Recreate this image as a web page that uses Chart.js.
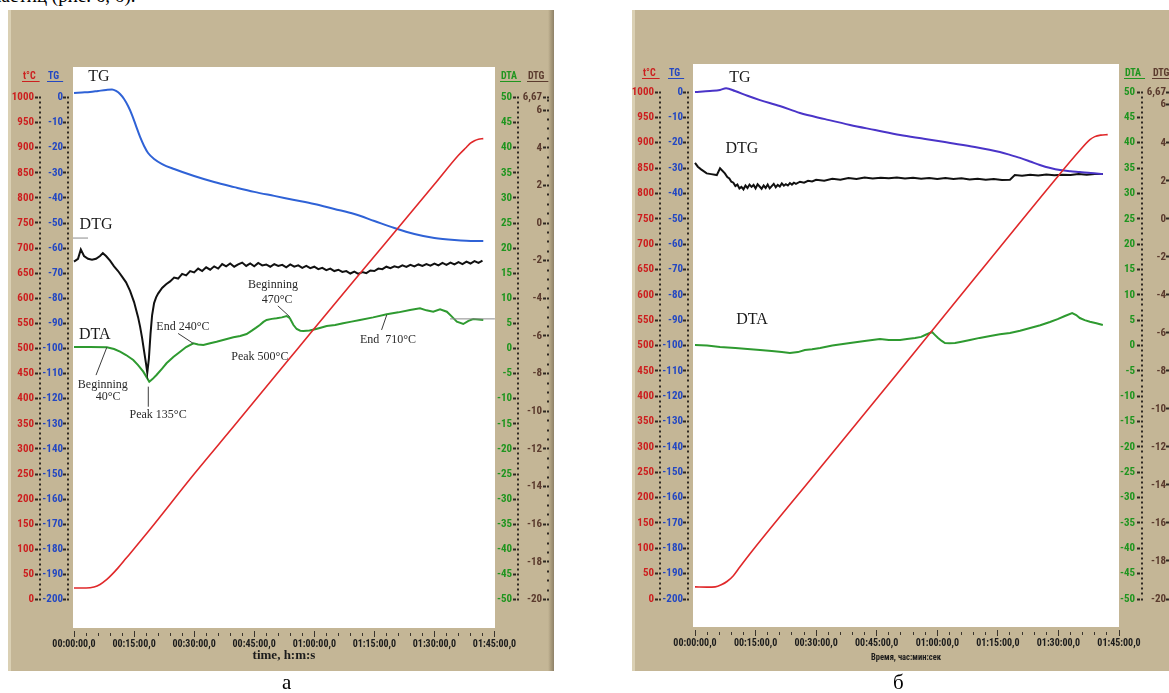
<!DOCTYPE html>
<html>
<head>
<meta charset="utf-8">
<script src="https://cdn.jsdelivr.net/npm/chart.js@4.4.1/dist/chart.umd.min.js"></script>
<style>
  html, body { margin: 0; padding: 0; background: #fff; width: 1169px; height: 693px; overflow: hidden; position: relative; }
  .panel { position: absolute; top: 10px; height: 661px;
    background: linear-gradient(to right, #dad0b4 0, #dad0b4 3px, #c4b696 3px, #c4b696 calc(100% - 6px), #a99b7d calc(100% - 3px), #8e8168 100%); }
  #pa { left: 8px; width: 546px; }
  #pb { left: 632px; width: 547px; }
  canvas { position: absolute; left: 0; top: 0; }
  .cap { position: absolute; top: 670px; font: 21px "Liberation Serif", "Times New Roman", serif; color: #000; }
  .cut { position: absolute; left: -8px; top: -15px; font: 19px "Liberation Serif", "Times New Roman", serif; color: #000; white-space: nowrap; }
</style>
</head>
<body>
<div class="cut">частиц (рис. 6, б).</div>
<div class="panel" id="pa"><canvas id="ca" width="546" height="661"></canvas></div>
<div class="panel" id="pb"><canvas id="cb" width="547" height="661"></canvas></div>
<div class="cap" style="left:282px">а</div>
<div class="cap" style="left:893px">б</div>
<script>
// ---------- tick values ----------
const timeLabelTicks = [0, 15, 30, 45, 60, 75, 90, 105];   // minutes
const timeStep = 3;
const tempTicks = [0, 50, 100, 150, 200, 250, 300, 350, 400, 450, 500, 550, 600, 650, 700, 750, 800, 850, 900, 950, 1000];
const tempStep = 10;
const tgTicks = [0, -10, -20, -30, -40, -50, -60, -70, -80, -90, -100, -110, -120, -130, -140, -150, -160, -170, -180, -190, -200];
const tgStep = 2;
const dtaTicks = [50, 45, 40, 35, 30, 25, 20, 15, 10, 5, 0, -5, -10, -15, -20, -25, -30, -35, -40, -45, -50];
const dtaStep = 1;
const dtgTicks = [6.67, 6, 4, 2, 0, -2, -4, -6, -8, -10, -12, -14, -16, -18, -20];
const dtgStep = 0.5;

// ---------- sample (а) ----------
const timeTempA = [0, 3, 5, 6.5, 8.2, 9.5, 11, 13, 15, 18.7, 30, 40, 53.2, 60, 70, 78, 90, 96, 98, 99, 100, 101, 102.2];
const tempA     = [23, 23, 25, 30, 40, 50, 63, 82, 101, 137, 250, 346, 474, 540, 636, 712, 827, 885, 901, 909, 914, 917, 918];

const timeTgA = [0, 2, 4, 6, 8, 9.5, 10.5, 11.5, 12.5, 13.5, 14.5, 15.5, 16.5, 17.5, 18.5, 20, 22, 25, 30, 35, 40, 45, 50, 55, 60, 65, 70, 75, 80, 85, 90, 95, 100, 102.2];
const tgA     = [1.8, 2.0, 2.2, 2.6, 3.0, 3.2, 2.6, 1.4, -0.6, -3.4, -7.0, -11.4, -15.7, -19.3, -22.1, -24.5, -26.5, -28.5, -31.3, -33.7, -35.7, -37.6, -39.2, -40.8, -42.4, -44.4, -46.4, -49.2, -52.0, -54.4, -56.0, -56.8, -57.2, -57.2];

const timeDtgA = [0, 1, 1.7, 2.5, 3.5, 4.5, 5.5, 6.5, 7.2, 8, 9, 10, 11, 12, 13, 14, 15, 16, 16.5, 17, 17.5, 18, 18.3, 18.7, 19.1, 19.5, 20, 20.5, 21,
  22, 23, 24, 25, 26, 27, 28, 29, 30, 31, 32, 33, 34, 35, 36, 37, 38, 39, 40, 41, 42, 43, 44, 45, 46, 47, 48, 49, 50, 51, 52, 53, 54, 55, 56, 57, 58, 59, 60,
  61, 62, 63, 64, 65, 66, 67, 68, 69, 70, 71, 72, 73, 74, 75, 76, 77, 78, 79, 80, 81, 82, 83, 84, 85, 86, 87, 88, 89, 90, 91, 92, 93, 94, 95, 96, 97, 98, 99, 100, 101, 102];
const dtgA = [-2.05, -1.9, -1.4, -1.75, -1.9, -1.95, -1.9, -1.75, -1.6, -1.75, -2.0, -2.3, -2.55, -2.85, -3.15, -3.6, -4.2, -5.0, -5.5, -6.1, -6.8, -7.5, -7.95, -7.2, -5.9, -4.9, -4.25, -3.95, -3.75,
  -3.45, -3.25, -3.1, -2.9, -2.95, -2.7, -2.78, -2.55, -2.62, -2.42, -2.55, -2.35, -2.48, -2.3, -2.42, -2.18, -2.3, -2.15, -2.32, -2.2, -2.1, -2.28, -2.15, -2.3, -2.12, -2.25, -2.2, -2.32, -2.18, -2.28, -2.22, -2.35, -2.2, -2.32, -2.25, -2.38, -2.28, -2.4, -2.32,
  -2.45, -2.38, -2.5, -2.42, -2.55, -2.48, -2.6, -2.55, -2.68, -2.58, -2.7, -2.6, -2.66, -2.52, -2.55, -2.42, -2.45, -2.32, -2.4, -2.3, -2.36, -2.25, -2.33, -2.22, -2.3, -2.2, -2.28, -2.18, -2.26, -2.15, -2.25, -2.12, -2.22, -2.1, -2.2, -2.08, -2.18, -2.05, -2.15, -2.02, -2.12, -2.0];

const timeDtaA = [0, 4, 8.2, 10, 11.5, 13, 14.8, 16, 17.3, 18.2, 18.8, 19.6, 20.6, 22, 23.1, 24.8, 26.5, 28, 29.8, 31, 32.3, 34, 35.6, 37.7, 39.8, 41.5, 43.1, 44.4, 45.4, 46.4, 47.3, 48.1, 49.4, 50.6, 51.9, 53.1, 53.9, 54.8, 55.6, 56.5, 57.3, 58.8, 60.2, 61.6, 63.1, 65.2, 67.2, 69.3, 71.4, 74.7, 78.1, 81, 83.9, 86.4, 88, 89.7, 91.4, 93.1, 94.3, 95.6, 97.2, 98.5, 99.7, 102.2];
const dtaA     = [0.3, 0.3, 0.24, -0.1, -0.64, -1.3, -2.29, -3.3, -4.62, -5.8, -6.61, -6.1, -5.28, -4.0, -2.95, -1.7, -0.64, 0.3, 1.04, 0.8, 0.7, 1.05, 1.35, 1.8, 2.23, 2.5, 2.89, 3.55, 4.1, 4.68, 5.3, 5.68, 5.9, 6.02, 6.2, 6.47, 6.02, 4.68, 3.88, 3.55, 3.49, 3.6, 3.82, 4.15, 4.48, 4.7, 5.02, 5.35, 5.68, 6.2, 6.81, 7.2, 7.67, 8.01, 7.6, 7.33, 7.81, 7.33, 6.4, 5.34, 4.88, 5.5, 5.88, 5.68];

// ---------- sample (б) ----------
const timeTempB = [0, 3, 5, 6.5, 8, 9.5, 11.1, 14.4, 30, 50, 70, 90, 95, 97.8, 99, 100.5, 102.2];
const tempB     = [24, 23.5, 24, 28, 35, 46, 63, 97, 249, 444, 640, 835, 882, 906, 912, 915, 916];

const timeTgB = [0, 3.7, 6.2, 7.7, 9.9, 13, 16.1, 21, 26, 32.2, 38.4, 44.6, 50.8, 57, 63.2, 69.3, 75.5, 78, 80.5, 83, 85.4, 88, 90.4, 93, 95.3, 98, 101];
const tgB     = [0, 0.4, 0.8, 1.5, 0.4, -1.5, -3.2, -5.5, -8.3, -10.7, -13.0, -15.0, -17.0, -18.5, -20.1, -21.7, -23.7, -24.8, -26.0, -27.4, -28.8, -30.0, -30.8, -31.3, -31.6, -32.0, -32.3];

const timeDtgB = [0, 0.7, 1.5, 2.9, 4, 5.4, 6.2, 7.4, 8, 8.5, 9, 9.5, 10, 10.5, 11, 11.5, 12, 12.5, 13, 13.5, 14, 14.5, 15, 15.5, 16, 16.5, 17, 17.5, 18, 18.5, 19, 19.5, 20, 20.5, 21, 21.5, 22, 22.5, 23, 23.5, 24, 24.5, 25, 26, 27, 28, 29, 30,
  32, 34, 36, 38, 40, 42, 44, 46, 48, 50, 52, 54, 56, 58, 60, 62, 64, 66, 68, 70, 72, 74, 76, 78, 79.2, 81, 83, 85, 87, 89, 91, 93, 95, 97, 99, 101];
const dtgB     = [2.94, 2.74, 2.6, 2.39, 2.35, 2.3, 2.66, 2.39, 2.2, 2.12, 1.95, 1.9, 1.72, 1.8, 1.6, 1.68, 1.55, 1.75, 1.62, 1.8, 1.68, 1.78, 1.6, 1.82, 1.7, 1.58, 1.75, 1.62, 1.8, 1.6, 1.72, 1.84, 1.66, 1.78, 1.7, 1.86, 1.74, 1.82, 1.75, 1.88, 1.8, 1.9, 1.84, 1.95, 1.9, 2.0, 1.96, 2.05,
  2.0, 2.1, 2.06, 2.15, 2.1, 2.17, 2.12, 2.16, 2.13, 2.17, 2.12, 2.16, 2.11, 2.15, 2.1, 2.14, 2.09, 2.13, 2.07, 2.11, 2.06, 2.09, 2.04, 2.05, 2.3, 2.27, 2.32, 2.28, 2.33, 2.29, 2.32, 2.3, 2.35, 2.32, 2.35, 2.36];

const timeDtaB = [0, 3, 6.2, 10, 13, 16.1, 19, 21.5, 23.5, 25.5, 27.2, 29, 31, 34, 38.4, 42, 45.8, 48, 50.8, 52.5, 54.5, 56, 57, 58.7, 59.4, 60.2, 61.1, 61.9, 63, 64.4, 66, 68.1, 70.5, 73.1, 75.5, 78, 80.5, 83, 85.5, 87.9, 89.8, 91.6, 93.4, 94.4, 95.3, 96.5, 97.8, 99.4, 101];
const dtaB     = [0.1, 0, -0.3, -0.5, -0.7, -0.89, -1.1, -1.3, -1.48, -1.3, -0.89, -0.75, -0.49, 0, 0.49, 0.9, 1.28, 1.1, 1.08, 1.3, 1.48, 1.7, 2.07, 2.66, 2.1, 1.48, 0.9, 0.49, 0.45, 0.49, 0.75, 1.08, 1.5, 1.87, 2.2, 2.47, 2.9, 3.45, 4.0, 4.64, 5.2, 5.82, 6.41, 6.0, 5.42, 5.0, 4.7, 4.4, 4.04];

// ---------- styling ----------
const NARROW = '"Liberation Sans Narrow", "Arial Narrow", "Roboto Condensed", "DejaVu Sans Condensed", sans-serif';
const SERIF = '"Liberation Serif", "Times New Roman", serif';
const C_RED = '#cc1f1f', C_BLUE = '#2448c2', C_GREEN = '#1f951f', C_BROWN = '#5b3b2e';
const TICK_COL = '#2e2822';

function series(times, vals) { return times.map((t, i) => ({ x: t, y: vals[i] })); }
function sameVal(a, b) { return Math.abs(a - b) < 1e-6; }
function pad2(n) { return String(n).padStart(2, '0'); }
function fmtTime(m) { return pad2(Math.floor(m / 60)) + ':' + pad2(m % 60) + ':00,0'; }

// extend the tick range so that the first/last tick sit at given pixels inside the plot box
function padRange(lo, hi, f) {
  const upp = (hi - lo) / (f.axisBottom - f.axisTop);
  return { min: lo - (f.plotBottom - f.axisBottom) * upp, max: hi + (f.axisTop - f.plotTop) * upp };
}

function yScale(c) {
  const lo = Math.min(...c.majors), hi = Math.max(...c.majors);
  const r = padRange(lo, hi, c.frame);
  const n = Math.floor((hi - lo) / c.step + 1e-9);
  const vals = [];
  for (let k = 0; k <= n; k++) vals.push(+(lo + k * c.step).toFixed(6));
  c.majors.forEach(m => { if (!vals.some(v => sameVal(v, m))) vals.push(m); });
  vals.sort((a, b) => a - b);
  const isMajor = v => c.majors.some(m => sameVal(m, v));
  const major = ctx => ctx && ctx.tick && isMajor(ctx.tick.value);
  return {
    type: 'linear', position: c.position, weight: c.weight, min: r.min, max: r.max,
    afterBuildTicks: s => { s.ticks = vals.map(v => ({ value: v })); },
    afterFit: s => { s.width = c.width; },
    border: { display: false },
    grid: {
      display: true, drawOnChartArea: false, drawTicks: true, tickLength: c.tl,
      tickWidth: 2, tickColor: TICK_COL,
      tickBorderDash: ctx => major(ctx) ? [3, 1, 2, 60] : [2, 60],
      tickBorderDashOffset: ctx => major(ctx) ? (66 - c.dashStart) % 66 : (62 - c.dotStart) % 62
    },
    ticks: {
      autoSkip: false, padding: c.pad, crossAlign: c.far ? 'far' : 'near',
      color: c.color, font: { family: NARROW, size: 11, weight: 'bold' },
      callback: v => isMajor(v) ? String(c.majors.find(m => sameVal(m, v))).replace('.', ',') : ''
    }
  };
}

function xScale(s) {
  const xf = s.xFrame;
  const last = timeLabelTicks[timeLabelTicks.length - 1];
  const ppm = (xf.endPx - xf.zeroPx) / last;
  const vals = [];
  for (let m = 0; m <= last; m += timeStep) vals.push(m);
  const isMajor = v => timeLabelTicks.includes(v);
  const major = ctx => ctx && ctx.tick && isMajor(ctx.tick.value);
  return {
    type: 'linear', position: 'bottom',
    min: -(xf.zeroPx - xf.left) / ppm, max: last + (xf.right - xf.endPx) / ppm,
    afterBuildTicks: sc => { sc.ticks = vals.map(v => ({ value: v })); },
    afterFit: sc => { sc.height = s.xHeight; },
    border: { display: false },
    grid: {
      display: true, drawOnChartArea: false, drawTicks: true, tickLength: 10,
      tickWidth: 1, tickColor: '#3a342c',
      tickBorderDash: ctx => major(ctx) ? [6, 60] : [3, 60],
      tickBorderDashOffset: ctx => major(ctx) ? 63 : 58
    },
    ticks: {
      autoSkip: false, maxRotation: 0, minRotation: 0, padding: 0,
      color: '#1c1c1c', font: { family: NARROW, size: 10, weight: 'bold' },
      callback: v => isMajor(v) ? fmtTime(v) : ''
    },
    title: { display: true, text: s.xTitle, color: '#1c1c1c', font: s.xTitleFont, padding: 0 }
  };
}

function notesPlugin(s) {
  return {
    id: 'notes',
    beforeDraw(chart) {
      const a = chart.chartArea, ctx = chart.ctx;
      ctx.save();
      ctx.fillStyle = '#ffffff';
      ctx.fillRect(a.left, a.top, a.right - a.left, a.bottom - a.top);
      ctx.restore();
    },
    afterDraw(chart) {
      const ctx = chart.ctx, sx = chart.scales.x, sy = chart.scales.yDTA;
      ctx.save();
      ctx.textAlign = 'center';
      ctx.textBaseline = 'middle';
      s.notes.forEach(n => {
        ctx.font = (n.big ? '16px ' : '12px ') + SERIF;
        ctx.fillStyle = n.big ? '#1a1a1a' : '#2a2a2a';
        ctx.fillText(n.s, sx.getPixelForValue(n.t), sy.getPixelForValue(n.v));
      });
      s.leaders.forEach(l => {
        ctx.strokeStyle = l[4] || '#3c3c3c';
        ctx.lineWidth = 1;
        ctx.beginPath();
        ctx.moveTo(sx.getPixelForValue(l[0]), sy.getPixelForValue(l[1]));
        ctx.lineTo(sx.getPixelForValue(l[2]), sy.getPixelForValue(l[3]));
        ctx.stroke();
      });
      // axis captions above the tick columns
      ctx.textAlign = 'left';
      ctx.font = 'bold 10px ' + NARROW;
      s.heads.forEach(h => {
        ctx.fillStyle = h.col;
        ctx.fillText(h.s, h.x, s.headY);
        const w = ctx.measureText(h.s).width;
        ctx.strokeStyle = h.col;
        ctx.lineWidth = 1;
        ctx.beginPath();
        ctx.moveTo(h.x - 1, s.headY + 5.5);
        ctx.lineTo(h.x + w + 4, s.headY + 5.5);
        ctx.stroke();
      });
      ctx.restore();
    }
  };
}

function buildChart(id, s) {
  const f = s.frame;
  const line = (data, axis, color, width, smooth) => ({
    data, yAxisID: axis, borderColor: color, borderWidth: width, pointRadius: 0,
    fill: false, cubicInterpolationMode: smooth ? 'monotone' : 'default', tension: 0
  });
  return new Chart(document.getElementById(id), {
    type: 'line',
    data: {
      datasets: [
        line(series(s.timeTemp, s.temp), 'yT', '#e0282a', 1.6, true),
        line(series(s.timeTg, s.tg), 'yTG', s.tgColor, 2, true),
        line(series(s.timeDtg, s.dtg), 'yDTG', '#111111', 2, false),
        line(series(s.timeDta, s.dta), 'yDTA', '#2e9a30', 2, false)
      ]
    },
    options: {
      responsive: false, animation: false, devicePixelRatio: 1, events: [],
      layout: { padding: { left: 0, right: s.padR, top: f.plotTop, bottom: s.padB } },
      plugins: { legend: { display: false }, tooltip: { enabled: false } },
      scales: {
        x: xScale(s),
        yT: yScale({ position: 'left', weight: 1, majors: tempTicks, step: tempStep, frame: f, width: s.wT, tl: 8, pad: 1, dashStart: 0, dotStart: 4, color: C_RED }),
        yTG: yScale({ position: 'left', weight: 0, majors: tgTicks, step: tgStep, frame: f, width: s.wTG, tl: 10, pad: 0, dashStart: 0, dotStart: 4, color: C_BLUE }),
        yDTA: yScale({ position: 'right', weight: 0, majors: dtaTicks, step: dtaStep, frame: f, width: s.wDTA, tl: 25, pad: 1, dashStart: 18, dotStart: 22, color: C_GREEN, far: true }),
        yDTG: yScale({ position: 'right', weight: 1, majors: dtgTicks, step: dtgStep, frame: f, width: s.wDTG, tl: 38, pad: 1, dashStart: 31, dotStart: 35, color: C_BROWN, far: true })
      }
    },
    plugins: [notesPlugin(s)]
  });
}

// ---------- chart (а) ----------
buildChart('ca', {
  timeTemp: timeTempA, temp: tempA, timeTg: timeTgA, tg: tgA, timeDtg: timeDtgA, dtg: dtgA, timeDta: timeDtaA, dta: dtaA,
  tgColor: '#2f62d6',
  frame: { plotTop: 57, plotBottom: 618, axisTop: 87.5, axisBottom: 589.5 },
  xFrame: { left: 65, right: 487, zeroPx: 66, endPx: 486.5 },
  wT: 35, wTG: 30, wDTA: 17, wDTG: 30, padR: 12, padB: 7.4, xHeight: 35.6,
  xTitle: 'time, h:m:s', xTitleFont: { family: SERIF, size: 13, weight: 'bold' },
  headY: 66,
  heads: [
    { s: 't°C', x: 15, col: C_RED }, { s: 'TG', x: 40, col: C_BLUE },
    { s: 'DTA', x: 493, col: C_GREEN }, { s: 'DTG', x: 520, col: C_BROWN }
  ],
  notes: [
    { s: 'TG', t: 6.2, v: 54.1, big: true },
    { s: 'DTG', t: 5.5, v: 24.6, big: true },
    { s: 'DTA', t: 5.2, v: 2.7, big: true },
    { s: 'Beginning', t: 7.2, v: -7.3 },
    { s: '40°C', t: 8.5, v: -9.7 },
    { s: 'Peak 135°C', t: 21, v: -13.2 },
    { s: 'End 240°C', t: 27.2, v: 4.3 },
    { s: 'Beginning', t: 49.7, v: 12.6 },
    { s: '470°C', t: 50.7, v: 9.7 },
    { s: 'Peak 500°C', t: 46.4, v: -1.7 },
    { s: 'End  710°C', t: 78.4, v: 1.7 }
  ],
  leaders: [
    [5.5, -5.3, 8.2, 0.24], [18.55, -7.6, 18.55, -11.6], [26.0, 3.0, 29.8, 1.0],
    [50.9, 8.5, 53.9, 6.3], [76.8, 3.7, 78.1, 6.7],
    [-0.25, 22, 3.5, 22, '#8a8a8a'], [93.9, 5.9, 105.1, 5.9, '#8a8a8a']
  ]
});

// ---------- chart (б) ----------
buildChart('cb', {
  timeTemp: timeTempB, temp: tempB, timeTg: timeTgB, tg: tgB, timeDtg: timeDtgB, dtg: dtgB, timeDta: timeDtaB, dta: dtaB,
  tgColor: '#4a34c8',
  frame: { plotTop: 54, plotBottom: 617, axisTop: 82, axisBottom: 589 },
  xFrame: { left: 61, right: 487, zeroPx: 63, endPx: 487 },
  wT: 31, wTG: 30, wDTA: 16, wDTG: 31, padR: 13, padB: 8.2, xHeight: 35.8,
  xTitle: 'Время, час:мин:сек', xTitleFont: { family: NARROW, size: 8.5, weight: 'bold' },
  headY: 63,
  heads: [
    { s: 't°C', x: 11, col: C_RED }, { s: 'TG', x: 37, col: C_BLUE },
    { s: 'DTA', x: 493, col: C_GREEN }, { s: 'DTG', x: 521, col: C_BROWN }
  ],
  notes: [
    { s: 'TG', t: 11.1, v: 52.8, big: true },
    { s: 'DTG', t: 11.6, v: 38.8, big: true },
    { s: 'DTA', t: 14.1, v: 5.0, big: true }
  ],
  leaders: []
});
</script>
</body>
</html>
